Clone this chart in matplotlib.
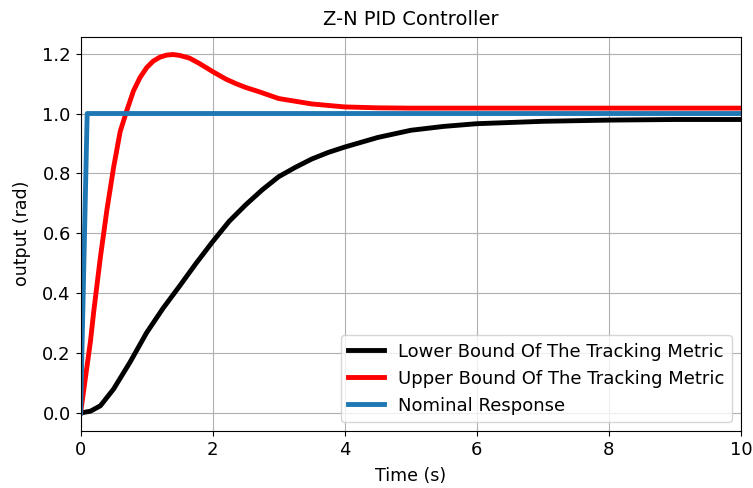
import matplotlib
matplotlib.use("Agg")
import matplotlib.pyplot as plt

# values
t_nom = [0.0, 0.1, 10.0]
y_nom = [0.0, 1.0, 1.0]

t_low = [0.0, 0.15, 0.3, 0.5, 0.75, 1.0, 1.25, 1.5, 1.75, 2.0, 2.25, 2.5,
         2.75, 3.0, 3.25, 3.5, 3.75, 4.0, 4.5, 5.0, 5.5, 6.0, 7.0, 8.0,
         9.0, 10.0]
y_low = [0.0, 0.006, 0.024, 0.08, 0.17, 0.268, 0.35, 0.424, 0.5, 0.572,
         0.64, 0.695, 0.745, 0.789, 0.82, 0.848, 0.87, 0.888, 0.92, 0.944,
         0.957, 0.966, 0.974, 0.978, 0.98, 0.98]

t_up = [0.0, 0.05, 0.1, 0.15, 0.2, 0.25, 0.3, 0.35, 0.4, 0.5, 0.6, 0.7,
        0.8, 0.9, 1.0, 1.1, 1.2, 1.3, 1.4, 1.5, 1.65, 1.8, 2.0, 2.2, 2.35,
        2.5, 2.7, 3.0, 3.5, 4.0, 4.5, 5.0, 10.0]
y_up = [0.0, 0.08, 0.16, 0.24, 0.34, 0.43, 0.52, 0.6, 0.68, 0.82, 0.94,
        1.01, 1.075, 1.12, 1.153, 1.175, 1.188, 1.195, 1.197, 1.194, 1.185,
        1.167, 1.14, 1.115, 1.1, 1.087, 1.073, 1.05, 1.032, 1.022, 1.019,
        1.018, 1.018]

fig, ax = plt.subplots(figsize=(7.53, 4.88), dpi=100)

ax.plot(t_low, y_low, color='black', linewidth=3.5,
        label='Lower Bound Of The Tracking Metric')
ax.plot(t_up, y_up, color='red', linewidth=3.5,
        label='Upper Bound Of The Tracking Metric')
ax.plot(t_nom, y_nom, color='#1f77b4', linewidth=3.5, label='Nominal Response')

ax.set_xlim(0, 10)
ax.set_title('Z-N PID Controller', fontsize=14, pad=8)
ax.set_xlabel('Time (s)', fontsize=12.5, labelpad=6)
ax.set_ylabel('output (rad)', fontsize=12.5, labelpad=8)
ax.tick_params(labelsize=13)
ax.grid(True)
ax.legend(loc='lower right', fontsize=13)

fig.subplots_adjust(left=0.107, right=0.984, top=0.925, bottom=0.117)
fig.savefig('out.png', dpi=100)
